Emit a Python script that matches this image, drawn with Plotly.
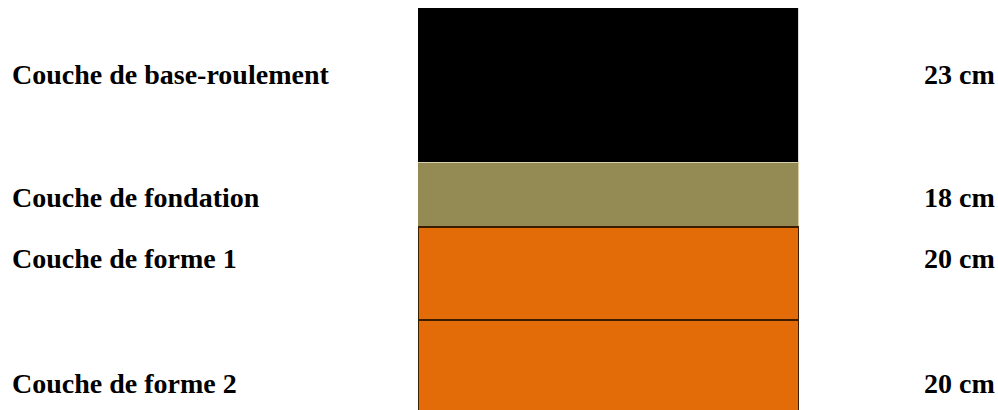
import plotly.graph_objects as go

layers = ["Couche de base-roulement", "Couche de fondation", "Couche de forme 1", "Couche de forme 2"]
thickness_cm = [23, 18, 20, 20]
# schematic band heights as drawn in the diagram (not to scale)
band_heights = [155, 64, 93, 100]
colors = ["#000000", "#948A54", "#E36C09", "#E36C09"]
edge_colors = ["#d9d9d9", "#d8d0a8", "#3a1c00", "#3a1c00"]
edge_widths = [1.5, 1.5, 2, 2]

W, H = 998, 410
TOP = 8
PH = H - TOP

fig = go.Figure()
for name, h, c, e, lw in zip(layers, band_heights, colors, edge_colors, edge_widths):
    fig.add_trace(go.Bar(
        x=["profil"], y=[h], name=name,
        marker=dict(color=c, line=dict(color=e, width=lw)),
        width=1, showlegend=False, hoverinfo="skip",
    ))

font = dict(family="Liberation Serif, Times New Roman, serif", size=28, color="#000000")
label_y = [75, 197, 258, 383]  # pixel rows of labels in the window
annotations = []
for name, t, yp in zip(layers, thickness_cm, label_y):
    yy = 1 - (yp - TOP) / PH
    annotations.append(dict(text="<b>%s</b>" % name, x=10 / W, y=yy, xref="paper", yref="paper",
                            xanchor="left", yanchor="middle", showarrow=False, font=font))
    annotations.append(dict(text="<b>%d cm</b>" % t, x=997 / W, y=yy, xref="paper", yref="paper",
                            xanchor="right", yanchor="middle", showarrow=False, font=font))

fig.update_layout(
    barmode="stack", bargap=0,
    width=W, height=H,
    margin=dict(l=0, r=0, t=TOP, b=0),
    paper_bgcolor="white", plot_bgcolor="white",
    xaxis=dict(domain=[418 / W, 799 / W], visible=False, fixedrange=True),
    yaxis=dict(domain=[0, 1], range=[PH, 0], visible=False, fixedrange=True),
    annotations=annotations,
)
fig.write_html(
    "out.html",
    config={"displayModeBar": False},
    post_script="document.body.style.margin='0';document.body.style.overflow='hidden';",
)
